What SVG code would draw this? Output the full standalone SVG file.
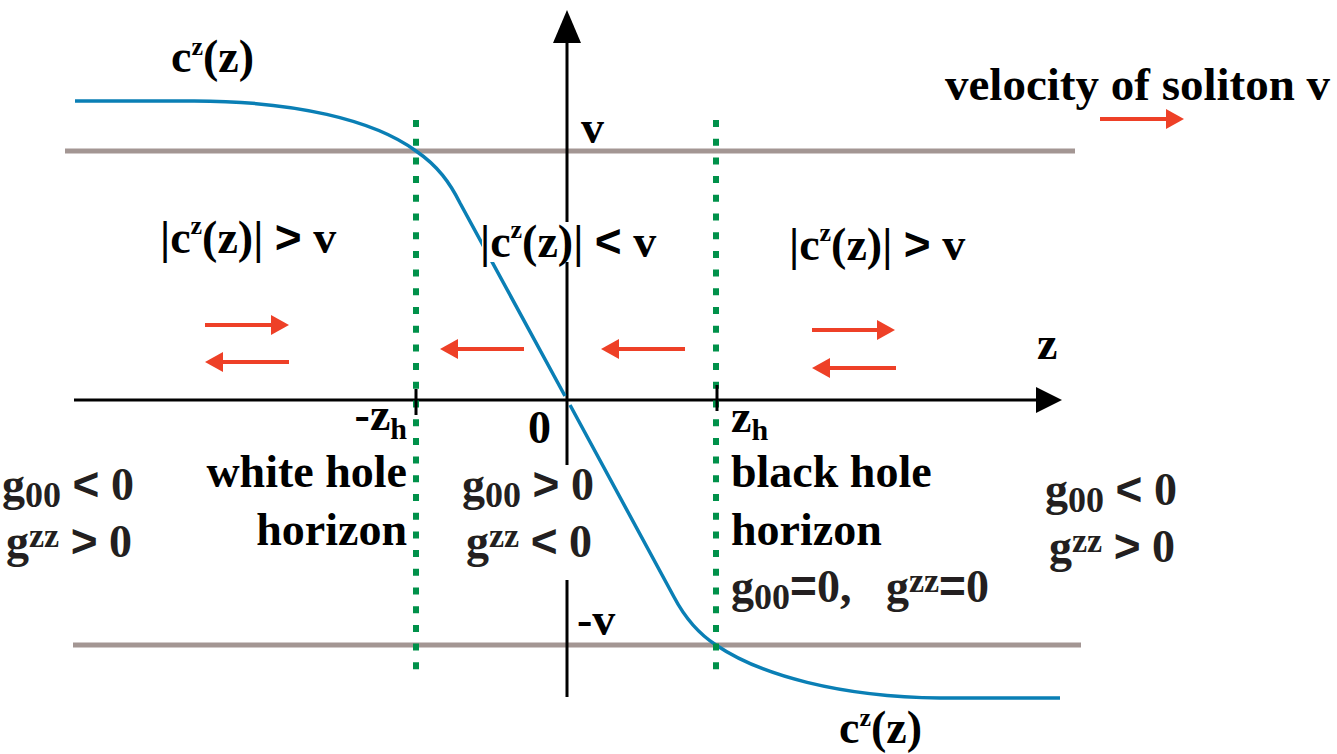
<svg xmlns="http://www.w3.org/2000/svg" width="1337" height="754" viewBox="0 0 1337 754">
<defs>
<style>
.t{font-family:"Liberation Serif","Times New Roman",serif;font-weight:bold;font-size:46px;fill:#000;white-space:pre}
.g{fill:#231f20}
.sup{font-size:26px}
.sup2{font-size:34px}
.sub{font-size:30px}
.sub2{font-size:36px}
.op{font-family:"Liberation Sans",Arial,sans-serif;font-weight:bold}
.red{stroke:#ee4027;stroke-width:4;fill:none}
.gray{stroke:#a39693;stroke-width:5}
.grn{stroke:#00914a;stroke-width:6;stroke-dasharray:7 11.7}
.ax{stroke:#000;stroke-width:3;fill:none}
</style>
<marker id="ra" markerUnits="userSpaceOnUse" markerWidth="18" markerHeight="20" refX="9" refY="10" orient="auto">
<path d="M0,0 L18,10 L0,20 z" fill="#ee4027"/>
</marker>
</defs>
<rect width="1337" height="754" fill="#fff"/>
<g id="connectors">
<line class="gray" x1="65" y1="151" x2="1075" y2="151"/>
<line class="gray" x1="73" y1="645" x2="1081" y2="645"/>
<line class="ax" x1="74" y1="400" x2="1040" y2="400"/>
<path d="M1036,387 L1062,400 L1036,413 z" fill="#000"/>
<line class="ax" x1="567" y1="40" x2="567" y2="697"/>
<path d="M553,43 L567,10 L581,43 z" fill="#000"/>
<path d="M75,101 L194,101 C294,101 374,120 416,151 C438,166 450,183 460,203 L565,396" stroke="#0a7fb5" stroke-width="3.5" fill="none"/>
<path d="M570,405 L674,597 C684,616 696,632 716,645 C760,675 840,697 940,698 L1060,698" stroke="#0a7fb5" stroke-width="3.5" fill="none"/>
<rect x="482" y="222" width="184" height="40" fill="#fff"/>
<rect x="460" y="465" width="140" height="115" fill="#fff"/>
<line class="grn" x1="416" y1="120" x2="416" y2="675"/>
<line class="grn" x1="716" y1="120" x2="716" y2="675"/>
<line class="ax" x1="416" y1="389" x2="416" y2="415"/>
<line class="ax" x1="717" y1="385" x2="717" y2="411"/>
<line class="red" x1="205" y1="325" x2="280" y2="325" marker-end="url(#ra)"/>
<line class="red" x1="289" y1="362" x2="214" y2="362" marker-end="url(#ra)"/>
<line class="red" x1="524" y1="349" x2="449" y2="349" marker-end="url(#ra)"/>
<line class="red" x1="685" y1="349" x2="610" y2="349" marker-end="url(#ra)"/>
<line class="red" x1="812" y1="330" x2="886" y2="330" marker-end="url(#ra)"/>
<line class="red" x1="896" y1="368" x2="821" y2="368" marker-end="url(#ra)"/>
<line class="red" x1="1100" y1="119" x2="1175" y2="119" marker-end="url(#ra)"/>
</g>
<g id="label-c-top"><text class="t" x="171" y="72">c<tspan class="sup" dy="-17">z</tspan><tspan dy="17">(z)</tspan></text></g>
<g id="label-v"><text class="t" x="581" y="143">v</text></g>
<g id="label-velocity"><text class="t" x="945" y="100" style="font-size:47px">velocity of soliton v</text></g>
<g id="region-left"><text class="t" x="160" y="253">|c<tspan class="sup" dy="-19">z</tspan><tspan dy="19">(z)| </tspan><tspan class="op">&gt;</tspan> v</text></g>
<g id="region-mid"><text class="t" x="480" y="257">|c<tspan class="sup" dy="-19">z</tspan><tspan dy="19">(z)| </tspan><tspan class="op">&lt;</tspan> v</text></g>
<g id="region-right"><text class="t" x="789" y="260">|c<tspan class="sup" dy="-19">z</tspan><tspan dy="19">(z)| </tspan><tspan class="op">&gt;</tspan> v</text></g>
<g id="label-z"><text class="t" x="1037" y="359">z</text></g>
<g id="label-mzh"><text class="t" x="407" y="430" text-anchor="end">-z<tspan class="sub" dy="9">h</tspan></text></g>
<g id="label-0"><text class="t" x="528" y="443">0</text></g>
<g id="label-zh"><text class="t" x="731" y="432">z<tspan class="sub" dy="8">h</tspan></text></g>
<g id="white-hole"><text class="t" x="407" y="487" text-anchor="end">white hole</text><text class="t" x="407" y="545" text-anchor="end">horizon</text></g>
<g id="black-hole"><text class="t" x="731" y="487">black hole</text><text class="t" x="731" y="545">horizon</text>
<text class="t g" x="731" y="602">g<tspan class="sub2" dy="7">00</tspan><tspan class="op" dy="-7">=</tspan>0,   g<tspan class="sup2" dy="-10">zz</tspan><tspan class="op" dy="10">=</tspan>0</text></g>
<g id="metric-left"><text class="t g" x="2" y="500">g<tspan class="sub2" dy="7">00</tspan><tspan dy="-7"> </tspan><tspan class="op">&lt;</tspan> 0</text>
<text class="t g" x="6" y="557">g<tspan class="sup2" dy="-10">zz</tspan><tspan dy="10"> </tspan><tspan class="op">&gt;</tspan> 0</text></g>
<g id="metric-mid"><text class="t g" x="462" y="500">g<tspan class="sub2" dy="7">00</tspan><tspan dy="-7"> </tspan><tspan class="op">&gt;</tspan> 0</text>
<text class="t g" x="466" y="557">g<tspan class="sup2" dy="-10">zz</tspan><tspan dy="10"> </tspan><tspan class="op">&lt;</tspan> 0</text></g>
<g id="metric-right"><text class="t g" x="1045" y="505">g<tspan class="sub2" dy="7">00</tspan><tspan dy="-7"> </tspan><tspan class="op">&lt;</tspan> 0</text>
<text class="t g" x="1049" y="562">g<tspan class="sup2" dy="-10">zz</tspan><tspan dy="10"> </tspan><tspan class="op">&gt;</tspan> 0</text></g>
<g id="label-mv"><text class="t" x="577" y="635">-v</text></g>
<g id="label-c-bottom"><text class="t" x="839" y="743">c<tspan class="sup" dy="-17">z</tspan><tspan dy="17">(z)</tspan></text></g>
</svg>
